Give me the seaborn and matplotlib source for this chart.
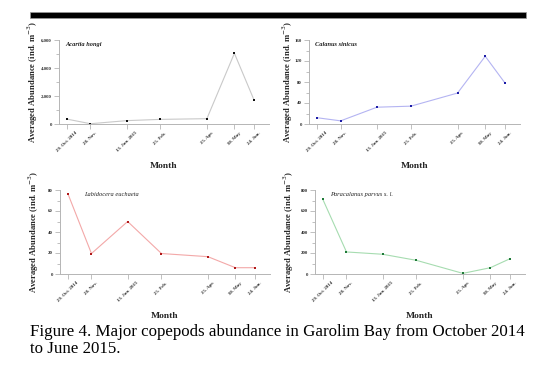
import pandas as pd
import matplotlib
matplotlib.use("Agg")
import matplotlib.pyplot as plt
from matplotlib.ticker import AutoMinorLocator, FuncFormatter
import seaborn as sns

# ===============================
# Data
# ===============================

sampling_dates = ["2014-10-29", "2014-11-28", "2015-01-13", "2015-02-25",
                  "2015-04-25", "2015-05-30", "2015-06-24"]
date_labels = ["29. Oct. 2014", "28. Nov.", "13. Jan. 2015", "25. Feb.",
               "25. Apr.", "30. May", "24. Jun."]

acartia = [350, 20, 240, 330, 380, 5050, 1710]
calanus = [12, 6, 32, 34, 59, 129, 78]
labidocera = [76.5, 19.5, 50, 19.5, 16.5, 6, 6]
paracalanus = [710, 210, 188, 130, 6, 60, 146]

species = ["Acartia hongi", "Calanus sinicus",
           "Labidocera euchaeta", "Paracalanus parvus s. l."]
y_max = [6000, 160, 80, 800]
y_step = [2000, 40, 20, 200]

sns.set_theme(style="ticks")
plt.rcParams["font.family"] = ["Liberation Serif", "DejaVu Serif"]

# ===============================
# Figure layout (pixels)
# ===============================

W, H = 554, 374
fig = plt.figure(figsize=(W / 100, H / 100), dpi=100)

def px_axes(left, top, right, bottom):
    return fig.add_axes([left / W, 1 - bottom / H, (right - left) / W, (bottom - top) / H])

panels = [
    dict(box=(59, 40, 269, 124), vals=acartia, line="#c9c9c9", mark="#111111",
         ylab_px=19, txt_x=0.03, bold=True),
    dict(box=(309, 40, 520, 124), vals=calanus, line="#b4b4f2", mark="#1c1ca6",
         ylab_px=14, txt_x=0.03, bold=True),
    dict(box=(60, 190, 270, 274), vals=labidocera, line="#f3a8a8", mark="#b01818",
         ylab_px=19, txt_x=0.115, bold=False),
    dict(box=(315, 190, 525, 274), vals=paracalanus, line="#a6dcb0", mark="#1f7a38",
         ylab_px=19, txt_x=0.07, bold=False),
]

x_dates = pd.to_datetime(sampling_dates)
x_lo = pd.Timestamp("2014-10-19")
x_hi = pd.Timestamp("2015-07-13")

for i, p in enumerate(panels):
    ax = px_axes(*p["box"])
    width_px = p["box"][2] - p["box"][0]
    df = pd.DataFrame({"Date": x_dates, "Abundance": p["vals"]})

    sns.lineplot(data=df, x="Date", y="Abundance", ax=ax, color=p["line"],
                 linewidth=0.8, marker="s", markersize=2.0, markeredgewidth=0,
                 markerfacecolor=p["mark"])

    ax.set_xlim(x_lo, x_hi)
    ax.set_ylim(0, y_max[i])
    ax.set_yticks(range(0, y_max[i] + 1, y_step[i]))
    ax.yaxis.set_minor_locator(AutoMinorLocator(2))
    ax.yaxis.set_major_formatter(FuncFormatter(lambda v, _: f"{int(v):,}"))
    ax.set_xticks(x_dates)
    ax.set_xticklabels(date_labels, rotation=45, ha="center", va="top",
                       fontsize=3.5, fontweight="bold")

    for lab in ax.get_yticklabels():
        lab.set_fontsize(3.5)
        lab.set_fontweight("bold")

    sns.despine(ax=ax)
    for side in ["left", "bottom"]:
        ax.spines[side].set_color("#b5b5b5")
        ax.spines[side].set_linewidth(0.7)
    ax.tick_params(axis="both", which="both", color="#b5b5b5", width=0.6,
                   pad=1.5, colors="#333333")
    ax.tick_params(axis="both", which="major", length=3.5)
    ax.tick_params(axis="y", which="minor", length=2)
    ax.tick_params(axis="x", which="minor", length=0)

    ax.set_xlabel("Month", fontsize=6.8, fontweight="bold")
    ax.xaxis.set_label_coords(0.5, -0.45)
    ax.set_ylabel("Averaged Abundance (ind. m$^{-3}$)", fontsize=6.2, fontweight="bold")
    ax.yaxis.set_label_coords(-p["ylab_px"] / width_px, 0.5)

    ax.text(p["txt_x"], 0.98, species[i], transform=ax.transAxes,
            fontsize=4.6, fontstyle="italic",
            fontweight="bold" if p["bold"] else "normal",
            ha="left", va="top", color="#222222")

# ===============================
# Black header bar and caption
# ===============================

fig.add_artist(plt.Rectangle((30 / W, 1 - 18 / H), 496 / W, 6 / H,
                             transform=fig.transFigure, facecolor="black",
                             edgecolor="#999999", linewidth=0.5))

fig.text(30 / W, 1 - 324 / H,
         "Figure 4. Major copepods abundance in Garolim Bay from October 2014\nto June 2015.",
         fontsize=12.2, ha="left", va="top", linespacing=1.12, color="black")

plt.savefig("out.png", dpi=100)
plt.close()
